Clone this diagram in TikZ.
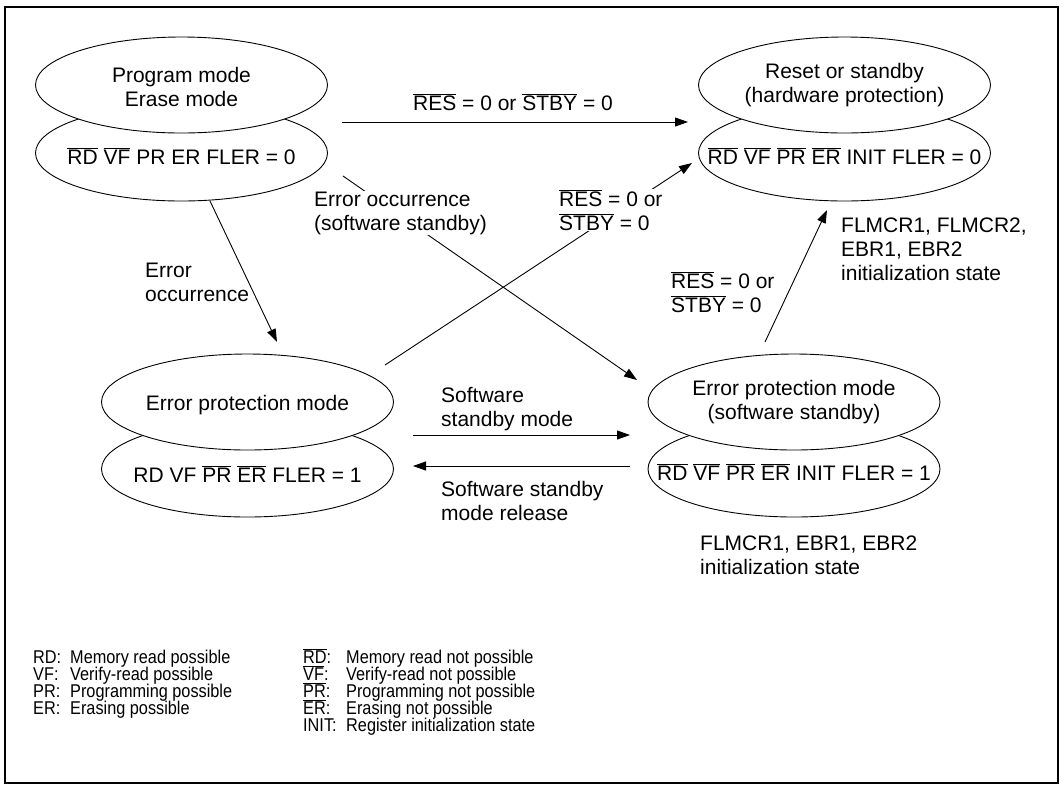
\documentclass[tikz,border=0pt]{standalone}
\usepackage{fontspec}
\setmainfont{Liberation Sans}
\newfontfamily\legfont[FakeStretch=0.88]{Liberation Sans}
\usetikzlibrary{shapes.geometric,arrows.meta}
\newcommand\olx[1]{\ensuremath{\overline{\mbox{#1}}}}
\begin{document}
\begin{tikzpicture}[x=1pt,y=-1pt,
  ell/.style={ellipse,draw,fill=white,line width=0.9pt,minimum width=292pt,minimum height=96pt,inner sep=0pt},
  txt/.style={font=\fontsize{21}{24}\selectfont,align=center,inner sep=0pt},
  btxt/.style={font=\fontsize{21}{24}\selectfont,anchor=base,inner sep=0pt},
  lbl/.style={font=\fontsize{21}{24}\selectfont,align=left,anchor=west,inner sep=1pt},
  wlbl/.style={lbl,fill=white},
  leg/.style={font=\legfont\fontsize{18.5}{17}\selectfont,anchor=base west,inner sep=0pt},
  arr/.style={line width=0.9pt,-{Triangle[length=13pt,width=9pt]}},
]
\useasboundingbox (0,0) rectangle (1064,788);
\draw[line width=1.2pt] (5,7) rectangle (1058,783);

% ellipses
\node[ell] (pmL) at (181.5,153) {};
\node[ell] (pmU) at (181.5,85) {};
\node[ell] (rsL) at (844.5,153) {};
\node[ell] (rsU) at (844.5,85) {};
\node[ell] (epL) at (247.5,469) {};
\node[ell] (epU) at (247.5,402) {};
\node[ell] (esL) at (794,469) {};
\node[ell] (esU) at (794,402) {};

% texts in ellipses
\node[txt] (pmUt) at (181.5,87) {Program mode\\Erase mode};
\node[btxt] (pmLt) at (181.5,164.5) {\olx{RD} \olx{VF} PR ER FLER = 0};
\node[txt] (rsUt) at (844.5,85) {Reset or standby\\(hardware protection)};
\node[btxt] (rsLt) at (844.5,164.5) {\olx{RD} \olx{VF} \olx{PR} \olx{ER} INIT FLER = 0};
\node[btxt] (epUt) at (247.5,410) {Error protection mode};
\node[btxt] (epLt) at (247.5,482) {RD VF \olx{PR} \olx{ER} FLER = 1};
\node[txt] (esUt) at (794,402) {Error protection mode\\(software standby)};
\node[btxt] (esLt) at (794,480.5) {\olx{RD} \olx{VF} \olx{PR} \olx{ER} INIT FLER = 1};

% connector end points
\coordinate (c1s) at (342,122);  \coordinate (c1e) at (688,122);
\coordinate (c2s) at (210,201);  \coordinate (c2e) at (277,342);
\coordinate (c3s) at (343,176);  \coordinate (c3e) at (637,380);
\coordinate (c4s) at (385,365);  \coordinate (c4e) at (692,163);
\coordinate (c5s) at (765,342);  \coordinate (c5e) at (827,210);
\coordinate (c6s) at (413,435);  \coordinate (c6e) at (630,435);
\coordinate (c7s) at (630,466);  \coordinate (c7e) at (413,466);

\draw[arr] (c1s) -- (c1e);
\draw[arr] (c2s) -- (c2e);
\draw[arr] (c3s) -- (c3e);
\draw[arr] (c4s) -- (c4e);
\draw[arr] (c5s) -- (c5e);
\draw[arr] (c6s) -- (c6e);
\draw[arr] (c7s) -- (c7e);

% connector labels
\node[btxt] (l1) at (513,110.5) {\olx{RES} = 0 or \olx{STBY} = 0};
\node[lbl] (l2) at (144,282) {Error\\occurrence};
\node[wlbl] (l3) at (313,213) {Error occurrence\\(software standby)};
\node[wlbl] (l4) at (558,210) {\olx{RES} = 0 or\\\olx{STBY} = 0};
\node[lbl] (l5) at (670,292) {\olx{RES} = 0 or\\\olx{STBY} = 0};
\node[lbl] (l6) at (840,249) {FLMCR1, FLMCR2,\\EBR1, EBR2\\initialization state};
\node[lbl] (l7) at (440,409) {Software\\standby mode};
\node[lbl] (l8) at (440,501) {Software standby\\mode release};
\node[lbl] (l9) at (699,555) {FLMCR1, EBR1, EBR2\\initialization state};

% legend
\node[leg] (k1a) at (33,663) {RD:};   \node[leg] (k1b) at (70,663) {Memory read possible};
\node[leg] (k2a) at (33,680) {VF:};   \node[leg] (k2b) at (70,680) {Verify-read possible};
\node[leg] (k3a) at (33,697) {PR:};   \node[leg] (k3b) at (70,697) {Programming possible};
\node[leg] (k4a) at (33,714) {ER:};   \node[leg] (k4b) at (70,714) {Erasing possible};
\node[leg] (k5a) at (303,663) {\olx{RD}:};  \node[leg] (k5b) at (346,663) {Memory read not possible};
\node[leg] (k6a) at (303,680) {\olx{VF}:};  \node[leg] (k6b) at (346,680) {Verify-read not possible};
\node[leg] (k7a) at (303,697) {\olx{PR}:};  \node[leg] (k7b) at (346,697) {Programming not possible};
\node[leg] (k8a) at (303,714) {\olx{ER}:};  \node[leg] (k8b) at (346,714) {Erasing not possible};
\node[leg] (k9a) at (303,731) {INIT:};      \node[leg] (k9b) at (346,731) {Register initialization state};
\end{tikzpicture}
\end{document}
